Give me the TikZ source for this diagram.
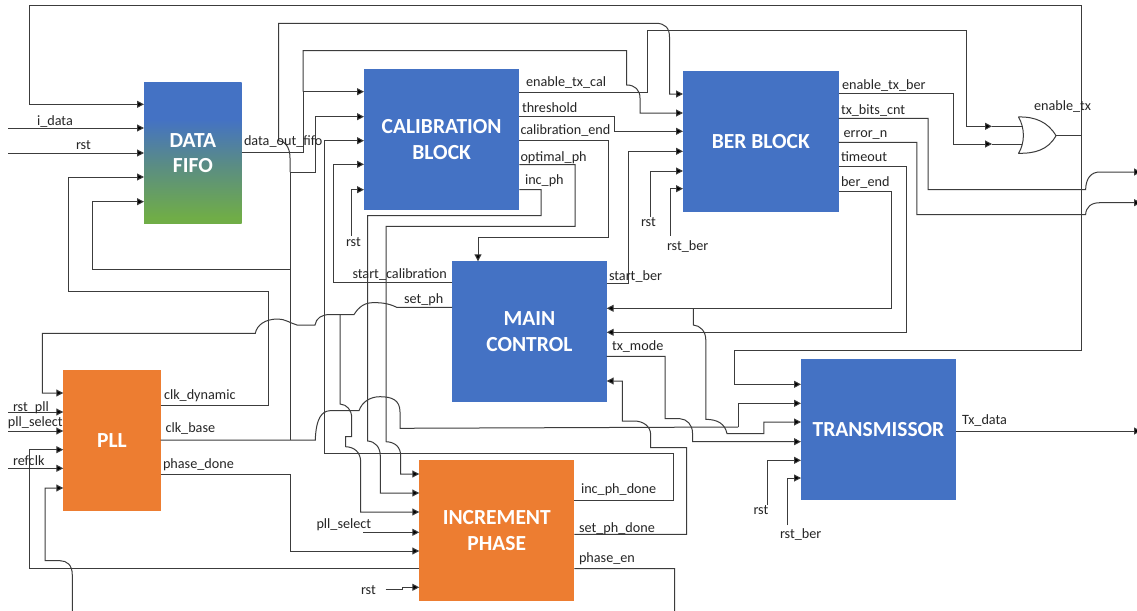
\documentclass[tikz,border=0pt]{standalone}
\usepackage{fontspec}
\setmainfont{Carlito}
\usetikzlibrary{arrows.meta}
\definecolor{blk}{HTML}{4472C4}
\definecolor{org}{HTML}{ED7D31}
\definecolor{fgreen}{HTML}{70AD47}
\definecolor{fmid}{HTML}{5A8C85}
\definecolor{wirec}{HTML}{3C3C3C}
\definecolor{txt}{HTML}{262626}
\pgfdeclareverticalshading{fifoshade}{100bp}{color(0bp)=(fgreen); color(27bp)=(fgreen); color(46bp)=(fmid); color(62bp)=(blk); color(100bp)=(blk)}
\tikzset{
  x=1pt,y=-1pt,
  block/.style={rectangle,draw=none,inner sep=0pt,outer sep=0pt,text=white,align=center,
    font=\fontsize{21.5}{25.5}\selectfont\bfseries},
  blueblock/.style={block,fill=blk},
  orangeblock/.style={block,fill=org},
  fifoblock/.style={block,shading=fifoshade},
  wire/.style={draw=wirec,line width=1pt},
  awire/.style={wire,-{Triangle[length=7pt,width=7pt,fill=black]}},
  lbl/.style={anchor=base west,inner sep=0pt,outer sep=0pt,text=txt,font=\fontsize{14.2}{16}\selectfont},
}
\begin{document}
\begin{tikzpicture}
\useasboundingbox (0,0) rectangle (1137,610);
\fill[white] (0,0) rectangle (1137,610);
% blocks
\node[fifoblock,minimum width=97.7,minimum height=140.6] (fifo) at (192.85,153) {DATA\\FIFO};
\node[blueblock,minimum width=155.3,minimum height=140.7] (cal) at (441.65,139.65) {CALIBRATION\\BLOCK};
\node[blueblock,minimum width=155.7,minimum height=140.7] (ber) at (760.85,141.35) {BER BLOCK};
\node[blueblock,minimum width=154.7,minimum height=140.4] (main) at (529.35,331.5) {MAIN\\CONTROL};
\node[orangeblock,minimum width=97.4,minimum height=140.7] (pll) at (112,440.65) {PLL};
\node[orangeblock,minimum width=155,minimum height=140.4] (inc) at (496.8,530.5) {INCREMENT\\PHASE};
\node[blueblock,minimum width=155,minimum height=141] (tx) at (878.5,429.5) {TRANSMISSOR};
% OR gate
\draw[wire,line join=round] (1018.5,117) .. controls (1025,128) and (1025,143) .. (1018.5,153.3)
  .. controls (1035,153.5) and (1048,150) .. (1056,135.7)
  .. controls (1048,122) and (1035,116.5) .. cycle;
\coordinate (orout) at (1056,135.7);
\coordinate (orin1) at (1022.3,126.3);
\coordinate (orin2) at (1022.3,144);
\coordinate (orjunc) at (1081.6,135.7);
\coordinate (oratip) at (992,126.3);
\coordinate (orbtip) at (992,144);
\draw[wire] (orout) -- (orjunc);
\draw[wire] (oratip) -- (orin1);
\draw[wire] (orbtip) -- (orin2);
% enable_tx feedback
\draw[awire] (orjunc) -- (1081.6,6) -- (29,6) -- (29,104.3) -- (fifo.west |- 0,104.3);
\draw[awire] (orjunc) -- (1081.6,350) -- (734.3,350) -- (734.3,384.3) -- (tx.west |- 0,384.3);
% FIFO inputs
\coordinate (iData) at (8,128);
\coordinate (iRst) at (8,153);
\draw[awire] (iData) -- (fifo.west |- iData);
\draw[awire] (iRst) -- (fifo.west |- iRst);
% clk_dynamic
\draw[awire] (pll.east |- 0,405.7) -- (268,405.7) -- (268,291) -- (68,291) -- (68,177) -- (fifo.west |- 0,177);
% clk_base
\coordinate (cbj) at (290,172);
\draw[wire] (pll.east |- 0,440) -- (315.3,440) .. controls (316,418) and (322,411) .. (330,410.7) -- (359,410.7)
  .. controls (362,402) and (370,396.7) .. (380,396.7) .. controls (392,396.7) and (400,400) .. (400,412) -- (400,428.3)
  -- (738,427) ;
\draw[awire] (738,427) -- (738,403.3) -- (tx.west |- 0,403.3);
\draw[wire] (290,440) -- (cbj);
\draw[awire] (290,269.3) -- (92,269.3) -- (92,201.7) -- (fifo.west |- 0,201.7);
\draw[awire] (cbj) -- (315.7,172) -- (315.7,116.7) -- (cal.west |- 0,116.7);
\draw[awire] (cbj) -- (290,158) .. controls (290,146) and (284,141) .. (278.7,140.7) -- (278.7,23.3) -- (656,23.3)
  .. controls (665,23.3) and (669.5,28) .. (669.5,37) -- (669.5,94) -- (ber.west |- 0,94);
% data_out_fifo
\coordinate (dof) at (303,152.7);
\draw[wire] (fifo.east |- dof) -- (dof);
\draw[wire] (dof) -- (303,91.7);
\draw[awire] (303,91.7) -- (cal.west |- 0,91.7);
\draw[awire] (303,91.7) -- (303,50.7) -- (626.7,50.7) -- (626.7,85) .. controls (635,85) and (640,90) .. (640,98) -- (640,113) -- (ber.west |- 0,113);
% CAL other inputs
\draw[awire] (inc.east |- 0,500.3) -- (673.3,500.3) -- (673.3,453.7) -- (324.3,453.7) -- (324.3,140.7) -- (cal.west |- 0,140.7);
\draw[awire] (main.west |- 0,282.7) -- (333.3,282.7) -- (333.3,164.3) -- (cal.west |- 0,164.3);
\coordinate (calRst) at (351,236);
\draw[awire] (calRst) -- (351,189.7) -- (cal.west |- 0,189.7);
% CAL outputs
\draw[awire] (cal.east |- 0,92.3) -- (647.7,92.3) -- (647.7,30.3) -- (966.4,30.3) -- (966.4,126.3) -- (oratip);
\draw[awire] (cal.east |- 0,116.7) -- (614.7,116.7) -- (614.7,131.3) -- (ber.west |- 0,131.3);
\draw[awire] (cal.east |- 0,140.7) -- (608.5,140.7) -- (608.5,237) -- (478,237) -- (main.north -| 478,0);
\draw[awire] (cal.east |- 0,164.7) -- (575,164.7) -- (575,226.3) -- (386,226.3) -- (386,441.7)
  .. controls (395,442) and (400.7,447) .. (400.7,456) -- (400.7,474) -- (inc.west |- 0,474);
\draw[awire] (cal.east |- 0,189.7) -- (541,189.7) -- (541,215.7) -- (367.7,215.7) -- (367.7,441)
  .. controls (375,441.5) and (380.3,447) .. (380.3,456) -- (380.3,493) -- (inc.west |- 0,493);
% set_ph
\coordinate (spj) at (340,314.5);
\draw[awire] (main.west |- 0,307.3) -- (396.7,307.3) .. controls (388,303) and (380,302.5) .. (372,302.7) .. controls (362,303) and (357,310) .. (354,314.5)
  -- (spj) -- (330,314.5) .. controls (322,314.5) and (316,318) .. (315,325) -- (297,325)
  .. controls (290,323) and (285,319) .. (278,319) .. controls (265,319) and (257,325) .. (255.3,333.3)
  -- (42.3,333.3) -- (42.3,393) -- (pll.west |- 0,393);
\draw[awire] (spj) -- (340,404) .. controls (347,404.5) and (351.7,410) .. (351.7,418) -- (351.7,436.7) -- (345.7,436.7) -- (345.7,446.7)
  .. controls (354,447) and (360.7,452) .. (360.7,462) -- (360.7,512) -- (inc.west |- 0,512);
% PLL inputs
\coordinate (iRstPll) at (8,412);
\coordinate (iPllSel) at (8,431);
\coordinate (iRef) at (8,468.3);
\draw[awire] (iRstPll) -- (pll.west |- iRstPll);
\draw[awire] (iPllSel) -- (pll.west |- iPllSel);
\draw[awire] (iRef) -- (pll.west |- iRef);
\draw[awire] (inc.west |- 0,568.3) -- (29.3,568.3) -- (29.3,449.7) -- (pll.west |- 0,449.7);
\draw[awire] (inc.east |- 0,568.7) -- (674.7,568.7) -- (674.7,612) -- (72.3,612) -- (72.3,575) .. controls (72.3,565) and (67,560.7) .. (60,560.7) -- (45,560.7) -- (45,488) -- (pll.west |- 0,488);
% phase_done
\draw[awire] (pll.east |- 0,474.3) -- (290,474.3) -- (290,551) -- (inc.west |- 0,551);
% INC other inputs
\coordinate (incSel) at (363,532.3);
\coordinate (incRst) at (385.7,589.3);
\draw[awire] (incSel) -- (inc.west |- incSel);
\draw[awire] (incRst) -- (402,589.3) -- (402,587.3) -- (inc.west |- 0,587.3);
% start_ber
\draw[awire] (main.east |- 0,283.7) -- (628.5,283.7) -- (628.5,151.3) -- (ber.west |- 0,151.3);
\coordinate (berRst) at (650.7,216.7);
\coordinate (berRstB) at (670.2,235.7);
\draw[awire] (berRst) -- (650.7,171) -- (ber.west |- 0,171);
\draw[awire] (berRstB) -- (670.2,188.7) -- (ber.west |- 0,188.7);
% BER outputs
\draw[awire] (ber.east |- 0,93.7) -- (953.8,93.7) -- (953.8,144) -- (orbtip);
\draw[awire] (ber.east |- 0,118.3) -- (928,118.3) -- (928,189.7) -- (1085.6,189.7) .. controls (1086,178) and (1091,172) .. (1100,172) -- (1141,172);
\draw[awire] (ber.east |- 0,142.3) -- (916.8,142.3) -- (916.8,214.7) -- (1085.6,214.7) .. controls (1086,207) and (1091,202.7) .. (1100,202.7) -- (1141,202.7);
\draw[awire] (ber.east |- 0,166.3) -- (906.5,166.3) -- (906.5,332.3) -- (main.east |- 0,332.3);
\coordinate (bej) at (693.3,308.3);
\draw[awire] (ber.east |- 0,191.3) -- (891.8,191.3) -- (891.8,308.3) -- (bej) -- (main.east |- 0,308.3);
\draw[awire] (bej) -- (693.3,325) .. controls (700,325.5) and (705.8,331) .. (705.8,340) -- (705.8,419.3)
  .. controls (718,419.5) and (725,424) .. (727,433.7) -- (763.8,433.7) -- (763.8,422) -- (tx.west |- 0,422);
% tx_mode
\draw[awire] (main.east |- 0,356.3) -- (665,356.3) -- (665,418.7) -- (680,418.7) .. controls (687,419) and (692.5,425) .. (692.5,433) -- (692.5,441.7) -- (tx.west |- 0,441.7);
% set_ph_done
\draw[awire] (inc.east |- 0,534.3) -- (686.7,534.3) -- (686.7,447.7) -- (650.7,447.7) -- (650.7,435) .. controls (650.7,426) and (643,421) .. (634,421) -- (622.3,421) -- (622.3,381) -- (main.east |- 0,381);
% TX
\coordinate (txRst) at (767.2,505);
\coordinate (txRstB) at (787.8,525);
\coordinate (txOut) at (1141,431);
\draw[awire] (txRst) -- (767.2,460.3) -- (tx.west |- 0,460.3);
\draw[awire] (txRstB) -- (787.8,478) -- (tx.west |- 0,478);
\draw[awire] (tx.east |- txOut) -- (txOut);
% labels
\node[lbl] (l1) at (37,125.5) {i\_data};
\node[lbl] (l2) at (76,149.5) {rst};
\node[lbl] (l3) at (244,145) {data\_out\_fifo};
\node[lbl] (l4) at (526,86.5) {enable\_tx\_cal};
\node[lbl] (l5) at (522,112) {threshold};
\node[lbl] (l6) at (520.5,134.5) {calibration\_end};
\node[lbl] (l7) at (520.5,161.5) {optimal\_ph};
\node[lbl] (l8) at (525,184.5) {inc\_ph};
\node[lbl] (l9) at (346,246.5) {rst};
\node[lbl] (l10) at (352.5,278.5) {start\_calibration};
\node[lbl] (l11) at (404,303.5) {set\_ph};
\node[lbl] (l12) at (609,280.5) {start\_ber};
\node[lbl] (l13) at (612,350.5) {tx\_mode};
\node[lbl] (l14) at (164,399.5) {clk\_dynamic};
\node[lbl] (l15) at (165.5,432.5) {clk\_base};
\node[lbl] (l16) at (163,468.5) {phase\_done};
\node[lbl] (l17) at (13,411) {rst\_pll};
\node[lbl] (l18) at (8,426) {pll\_select};
\node[lbl] (l19) at (13,465) {refclk};
\node[lbl] (l20) at (316.5,528.5) {pll\_select};
\node[lbl] (l21) at (361,594.5) {rst};
\node[lbl] (l22) at (581,493.5) {inc\_ph\_done};
\node[lbl] (l23) at (579,532) {set\_ph\_done};
\node[lbl] (l24) at (579,562.5) {phase\_en};
\node[lbl] (l25) at (842,89.5) {enable\_tx\_ber};
\node[lbl] (l26) at (841,114.5) {tx\_bits\_cnt};
\node[lbl] (l27) at (843.5,137.5) {error\_n};
\node[lbl] (l28) at (841,161.5) {timeout};
\node[lbl] (l29) at (841,186.5) {ber\_end};
\node[lbl] (l30) at (1034,110.5) {enable\_tx};
\node[lbl] (l31) at (641,226.5) {rst};
\node[lbl] (l32) at (667,250.5) {rst\_ber};
\node[lbl] (l33) at (962,424) {Tx\_data};
\node[lbl] (l34) at (753.5,514.5) {rst};
\node[lbl] (l35) at (780,538.5) {rst\_ber};
\end{tikzpicture}
\end{document}
